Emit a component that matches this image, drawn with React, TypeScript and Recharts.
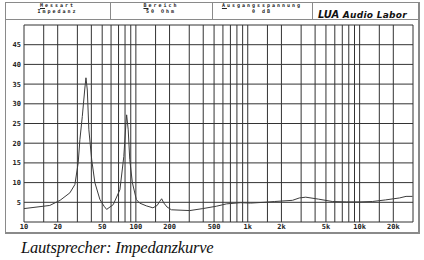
import React from 'react';
import { LineChart, Line, XAxis, YAxis, CartesianGrid } from 'recharts';

const freqHz = [
  10, 17, 21, 25.7, 28.5, 30.5, 31.6, 33.2, 35, 35.8, 36.8, 38, 40.3, 43, 47.7, 52, 54.8,
  62.7, 72, 78, 81.5, 82.7, 85.4, 88.2, 93, 101, 108, 124, 142, 155, 163, 170, 178, 190,
  208, 303, 396, 524, 645, 861, 1060, 1400, 1740, 2510, 2890, 3300, 4300, 5700, 7600,
  10000, 13000, 17000, 22700, 26000, 29700,
];
const impedanceOhm = [
  3.4, 4.2, 5.5, 7.4, 9.5, 15, 20.9, 26.8, 34, 36.6, 33.5, 23.4, 15.8, 10, 5.7, 4, 3.2,
  4.4, 8.2, 16.6, 25, 27.2, 23.4, 15.8, 10, 5.7, 4.8, 4.1, 3.6, 4.2, 5.2, 5.9, 4.8, 3.8,
  3.1, 2.9, 3.4, 4.0, 4.6, 4.9, 4.8, 5.0, 5.2, 5.5, 6.1, 6.3, 5.8, 5.2, 5.1,
  5.1, 5.2, 5.6, 6.1, 6.5, 6.5,
];

const gridFreqs = [
  10, 15, 20, 30, 40, 50, 60, 70, 80, 90,
  100, 150, 200, 300, 400, 500, 600, 700, 800, 900,
  1000, 1500, 2000, 3000, 4000, 5000, 6000, 7000, 8000, 9000,
  10000, 15000, 20000, 30000,
];
const labelFreqs = [10, 20, 50, 100, 200, 500, 1000, 2000, 5000, 10000, 20000];
const labelTexts = ['10', '20', '50', '100', '200', '500', '1k', '2k', '5k', '10k', '20k'];

const yTicks = [0, 5, 10, 15, 20, 25, 30, 35, 40, 45, 50];
const yLabelled = [5, 10, 15, 20, 25, 30, 35, 40, 45];

const headerTitles = ['Messart', 'Bereich', 'Ausgangsspannung'];
const headerValues = ['Impedanz', '50 Ohm', '0 dB'];
const caption = 'Lautsprecher: Impedanzkurve';

const data = freqHz.map((f, i) => ({ f, z: impedanceOhm[i] }));

const mono = '"DejaVu Sans Mono", monospace';
const frame = '#8a8a8a';

const cellEdges = [5, 110, 212, 312, 418];

export default function App() {
  return (
    <div style={{ position: 'absolute', left: 0, top: 0, width: 424, height: 260, background: '#fff', overflow: 'hidden' }}>
      {/* outer frame + header divider */}
      <div style={{ position: 'absolute', left: 5, top: 2, width: 412, height: 229, border: `1px solid ${frame}`, borderBottomWidth: 2, borderRightWidth: 2 }} />
      <div style={{ position: 'absolute', left: 5, top: 19, width: 413, height: 1, background: frame }} />
      {cellEdges.slice(1, 4).map((x) => (
        <div key={x} style={{ position: 'absolute', left: x, top: 2, width: 1, height: 17, background: frame }} />
      ))}

      {headerTitles.map((t, i) => {
        const left = cellEdges[i];
        const w = cellEdges[i + 1] - left;
        const common: React.CSSProperties = {
          position: 'absolute', left, width: w, textAlign: 'center', fontFamily: mono,
          fontWeight: 'bold', fontSize: 5, lineHeight: '6px', letterSpacing: 2, color: '#222',
        };
        return (
          <React.Fragment key={t}>
            <div style={{ ...common, top: 2 }}>
              <u>{t[0]}</u>{t.slice(1)}
            </div>
            <div style={{ ...common, top: 8.2 }}>{headerValues[i]}</div>
          </React.Fragment>
        );
      })}

      <div style={{ position: 'absolute', left: 318, top: 7, whiteSpace: 'nowrap', fontFamily: '"DejaVu Sans", sans-serif', fontWeight: 'bold', fontStyle: 'italic', color: '#111', lineHeight: '12px' }}>
        <span style={{ fontSize: 10 }}>LUA</span>
        <span style={{ fontSize: 9, letterSpacing: 0.3 }}> Audio Labor</span>
      </div>

      <div style={{ position: 'absolute', left: 0, top: 0 }}>
        <LineChart width={424} height={260} data={data} margin={{ top: 25, right: 11, left: 0, bottom: 24 }}>
          <CartesianGrid stroke="#333" strokeWidth={1} />
          <XAxis
            dataKey="f"
            type="number"
            scale="log"
            domain={[10, 30000]}
            ticks={gridFreqs}
            interval={0}
            allowDataOverflow
            height={14}
            tickLine={false}
            axisLine={false}
            tickSize={0}
            tickMargin={2}
            tick={{ fontSize: 7, fontFamily: mono, fontWeight: 'bold', fill: '#222' }}
            tickFormatter={(v: number) => {
              const k = labelFreqs.indexOf(v);
              return k >= 0 ? labelTexts[k] : '';
            }}
          />
          <YAxis
            type="number"
            domain={[0, 50]}
            ticks={yTicks}
            interval={0}
            width={24}
            tickLine={false}
            axisLine={false}
            tickSize={0}
            tickMargin={3}
            tick={{ fontSize: 7, fontFamily: mono, fontWeight: 'bold', fill: '#222' }}
            tickFormatter={(v: number) => (yLabelled.includes(v) ? String(v) : '')}
          />
          <Line dataKey="z" type="linear" stroke="#3c3c3c" strokeWidth={1} dot={false} isAnimationActive={false} />
        </LineChart>
      </div>

      <div style={{ position: 'absolute', left: 21, top: 239, fontFamily: '"Liberation Serif", serif', fontStyle: 'italic', fontSize: 16.5, letterSpacing: -0.2, lineHeight: '17px', color: '#111', whiteSpace: 'nowrap' }}>
        {caption}
      </div>
    </div>
  );
}
